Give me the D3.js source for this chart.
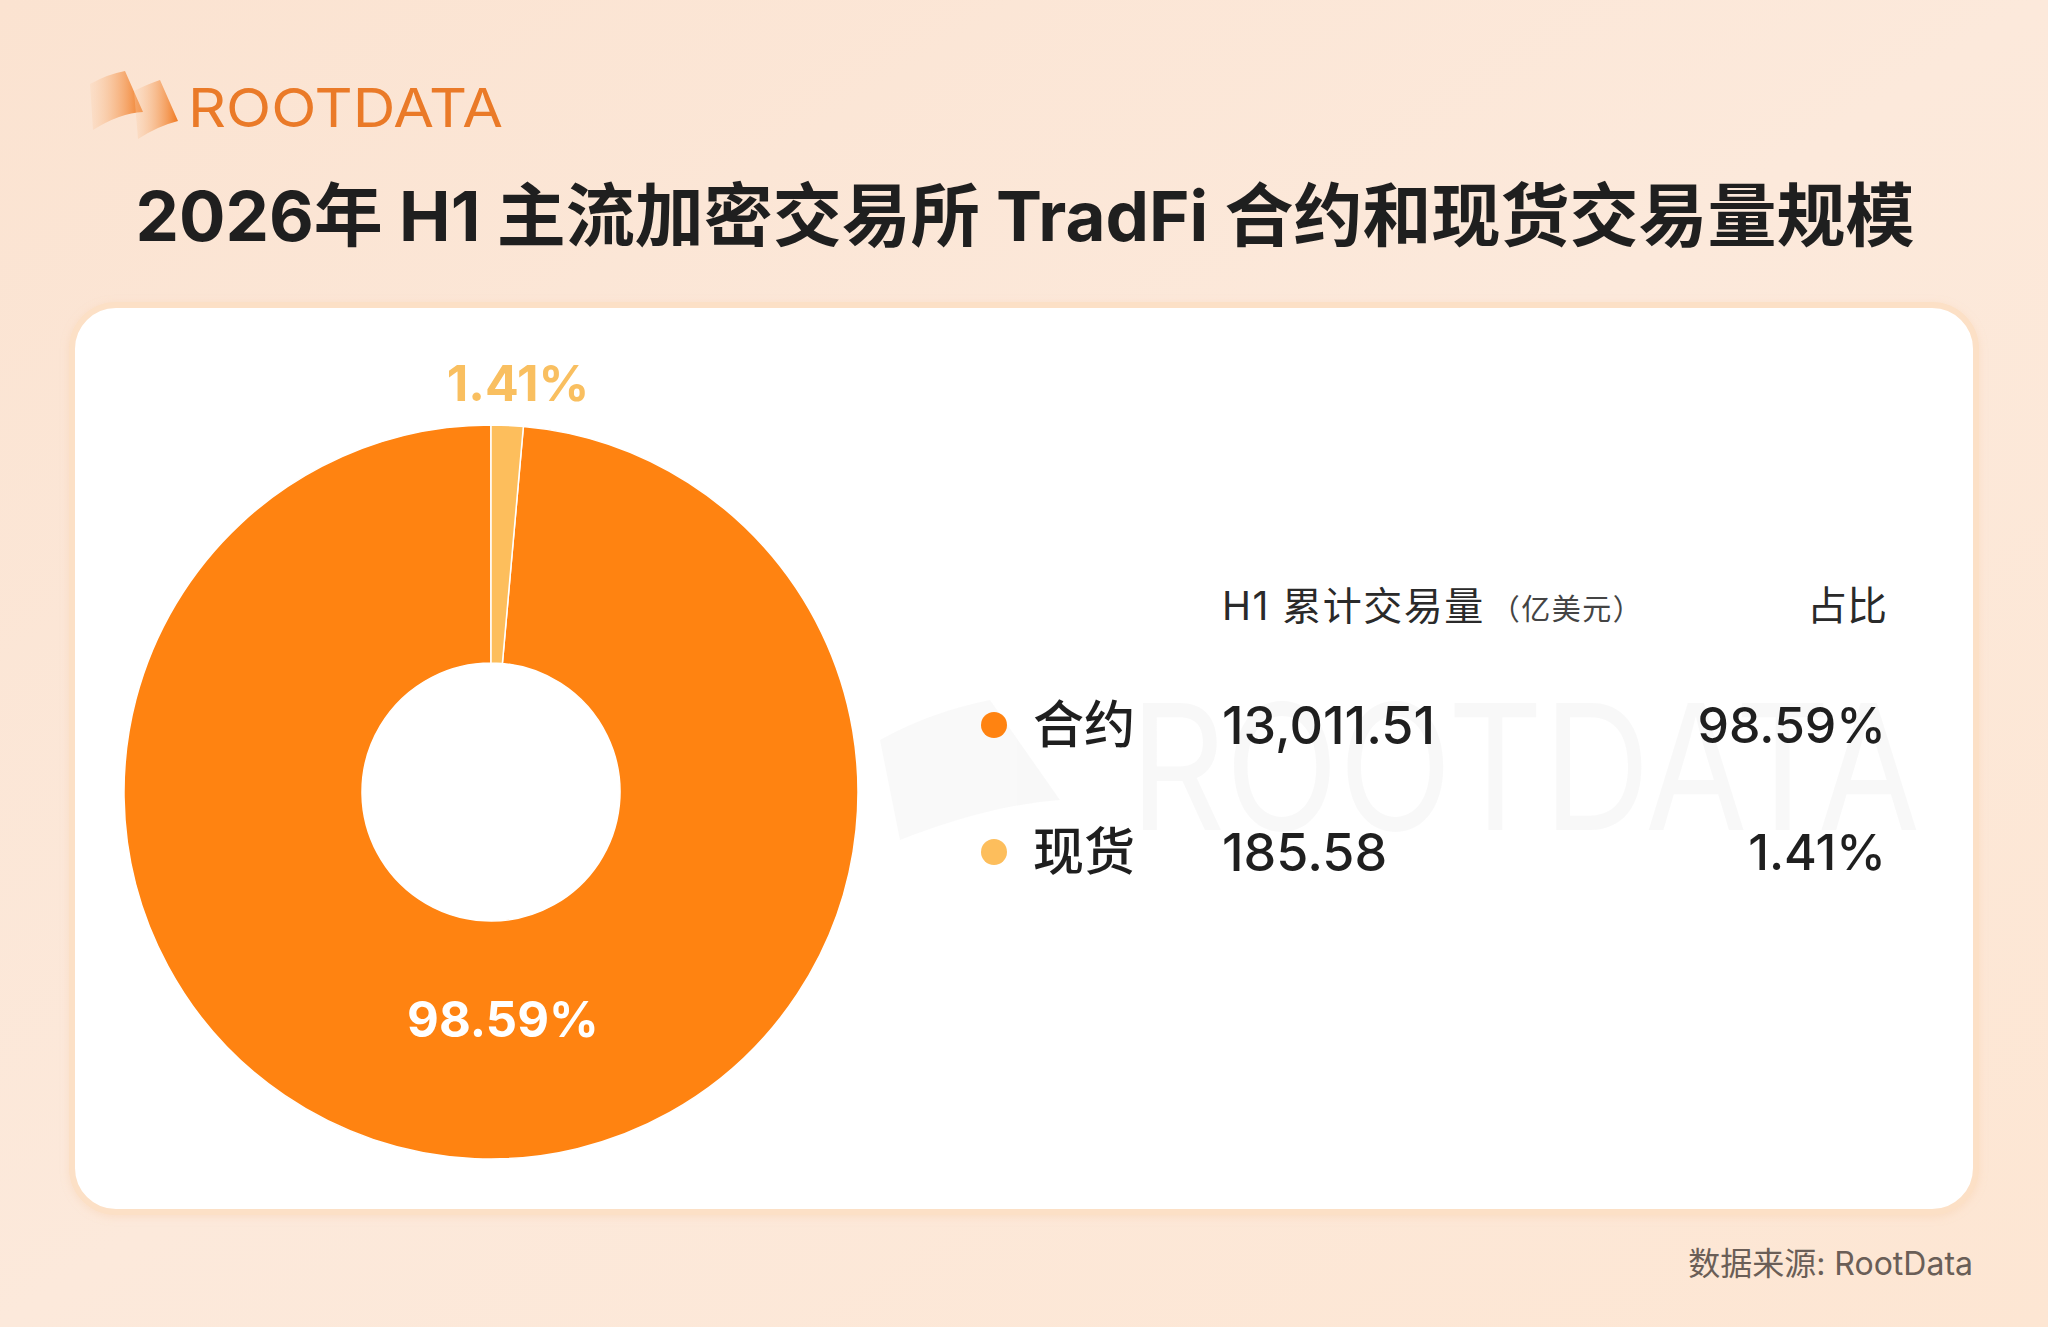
<!DOCTYPE html>
<html><head><meta charset="utf-8">
<script src="https://cdn.jsdelivr.net/npm/d3@7"></script>
<style>
html,body{margin:0;padding:0;}
body{width:2048px;height:1327px;overflow:hidden;}
text{font-family:Inter,"Noto Sans CJK SC","Noto Sans",sans-serif;}
</style></head>
<body><svg id="chart" width="2048" height="1327"></svg>
<script>
const categories = ["合约", "现货"];
const volumes = [13011.51, 185.58];
const volumeLabels = ["13,011.51", "185.58"];
const shareLabels = ["98.59%", "1.41%"];
const colors = ["#FF8311", "#FDBE5C"];
const titleText = "2026年 H1 主流加密交易所 TradFi 合约和现货交易量规模";
const headerVolume = "H1 累计交易量";
const headerUnit = "（亿美元）";
const headerShare = "占比";
const sourceText = "数据来源: RootData";

const svg = d3.select("#chart");
const W = 2048, H = 1327;
const defs = svg.append("defs");

// background gradient
const bg = defs.append("linearGradient").attr("id","bg").attr("x1","0").attr("y1","0").attr("x2","1").attr("y2","1");
bg.append("stop").attr("offset","0").attr("stop-color","#FBE3D1");
bg.append("stop").attr("offset","0.5").attr("stop-color","#FCE9DB");
bg.append("stop").attr("offset","1").attr("stop-color","#FDE6D3");
svg.append("rect").attr("width",W).attr("height",H).attr("fill","url(#bg)");

// logo
const lg = defs.append("linearGradient").attr("id","flag").attr("x1","0").attr("y1","0").attr("x2","1").attr("y2","0");
lg.append("stop").attr("offset","0").attr("stop-color","#FBD3B2").attr("stop-opacity","0.3");
lg.append("stop").attr("offset","1").attr("stop-color","#F07A22");
const logo = svg.append("g");
logo.append("path").attr("d","M90,84 Q108,74 125,71 L143,112 Q120,113 93,130 Z").attr("fill","url(#flag)");
logo.append("path").attr("d","M134,91 Q148,84 160,80 L178,121 Q158,126 138,139 Z").attr("fill","url(#flag)");
logo.append("text").attr("x",188).attr("y",127).attr("font-family","Roboto, 'Noto Sans', sans-serif")
  .attr("font-size",54).attr("font-weight",400).attr("fill","#EA7A28")
  .attr("textLength",315).attr("lengthAdjust","spacingAndGlyphs").text("ROOTDATA");

// title
svg.append("text").attr("x",1025).attr("y",241).attr("text-anchor","middle")
  .attr("font-size",69).attr("font-weight",700).attr("fill","#1F1F1F").text(titleText);

// card
const shadow = defs.append("filter").attr("id","sh").attr("x","-5%").attr("y","-5%").attr("width","110%").attr("height","110%");
shadow.append("feDropShadow").attr("dx",0).attr("dy",2).attr("stdDeviation",4).attr("flood-color","#F3B98A").attr("flood-opacity",0.25);
svg.append("rect").attr("x",72).attr("y",305).attr("width",1904).attr("height",907).attr("rx",44)
  .attr("fill","#FFFFFF").attr("stroke","#FCE0C6").attr("stroke-width",6).attr("filter","url(#sh)");

// watermark
const wm = svg.append("g").attr("opacity",0.45);
wm.append("path").attr("d","M880,740 Q930,712 990,700 L1060,800 Q990,805 900,840 Z").attr("fill","#F1F1F1");
wm.append("text").attr("x",1130).attr("y",830).attr("font-family","Roboto, sans-serif").attr("font-size",175)
  .attr("fill","#F0F0F0").attr("textLength",790).attr("lengthAdjust","spacingAndGlyphs").text("ROOTDATA");

// donut
const cx = 491, cy = 792, rOuter = 367, rInner = 129;
const data = categories.map((c,i)=>({cat:c, value:volumes[i], color:colors[i], share:shareLabels[i], idx:i}));
const pie = d3.pie().value(d=>d.value).sort((a,b)=>a.value-b.value);
const arcs = pie(data);
const arc = d3.arc().innerRadius(rInner).outerRadius(rOuter);
const g = svg.append("g").attr("transform",`translate(${cx},${cy})`);
g.selectAll("path.slice").data(arcs).join("path").attr("class","slice")
  .attr("d",arc).attr("fill",d=>d.data.color).attr("stroke","#FFFFFF").attr("stroke-width",1.5);

const inLabelArc = d3.arc().innerRadius(228).outerRadius(228);
const outLabelArc = d3.arc().innerRadius(409).outerRadius(409);
arcs.forEach(d=>{
  const big = d.data.idx===0;
  const p = big ? inLabelArc.centroid(d) : outLabelArc.centroid(d);
  g.append("text").attr("x",p[0] + (big?22:9)).attr("y",p[1]).attr("dy","0.36em")
    .attr("text-anchor","middle")
    .attr("font-size",big?49:50).attr("font-weight",700)
    .attr("fill", big ? "#FFFFFF" : "#F9BF60").text(d.data.share);
});

// table
const tbl = svg.append("g");
tbl.append("text").attr("x",1222).attr("y",620).attr("font-size",39).attr("font-weight",400).attr("fill","#2A2A2A")
  .attr("letter-spacing",1.5)
  .text(headerVolume)
  .append("tspan").attr("font-size",29).attr("fill","#444").attr("dx",6).text(headerUnit);
tbl.append("text").attr("x",1887).attr("y",620).attr("text-anchor","end").attr("font-size",40).attr("fill","#2A2A2A").text(headerShare);

const rowY = d3.scalePoint().domain(categories).range([725, 852]);
const rows = tbl.selectAll("g.row").data(data).join("g").attr("class","row")
  .attr("transform",d=>`translate(0,${rowY(d.cat)})`);
rows.append("circle").attr("cx",994).attr("cy",0).attr("r",13).attr("fill",d=>d.color);
rows.append("text").attr("x",1033).attr("dy","0.36em").attr("font-size",51).attr("font-weight",500).attr("fill","#1F1F1F").text(d=>d.cat);
rows.append("text").attr("x",1222).attr("dy","0.36em").attr("font-size",52).attr("font-weight",500).attr("fill","#1F1F1F")
  .text(d=>volumeLabels[d.idx]);
rows.append("text").attr("x",1886).attr("dy","0.36em").attr("text-anchor","end").attr("font-size",50).attr("font-weight",500).attr("fill","#1F1F1F")
  .text(d=>d.share);

// footer
svg.append("text").attr("x",1973).attr("y",1275).attr("text-anchor","end").attr("font-size",32).attr("fill","#6A5E57").text(sourceText);
</script></body></html>
